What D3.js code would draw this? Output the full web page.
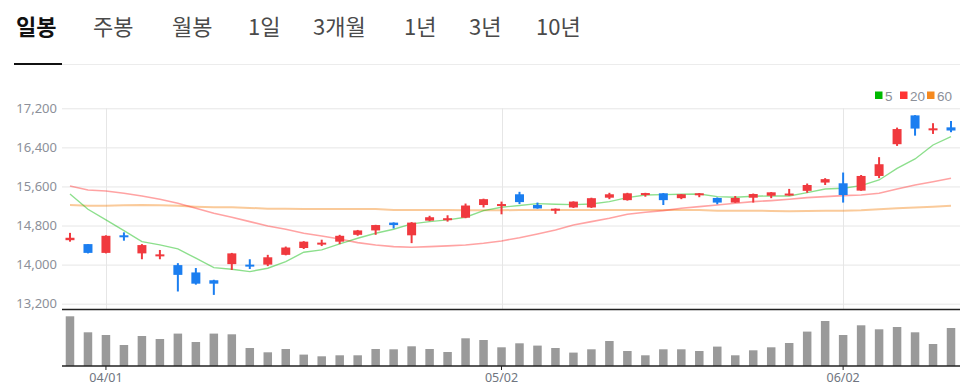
<!DOCTYPE html>
<html>
<head>
<meta charset="utf-8">
<script src="https://cdn.jsdelivr.net/npm/d3@7"></script>
<style>
  body { margin: 0; background: #fff; }
  svg { display: block; }
  .ytick text { font-family: "Noto Sans", "Open Sans", sans-serif; font-size: 13px; fill: #8c9099; }
  .xtick text { font-family: "Noto Sans", "Open Sans", sans-serif; font-size: 12.5px; fill: #6f7580; }
</style>
</head>
<body>
<svg id="viz" width="976" height="386"></svg>
<script>
// tabs
var tabs = ["일봉", "주봉", "월봉", "1일", "3개월", "1년", "3년", "10년"]
var tabX = [16, 93, 172, 248, 313, 404, 469, 536]

// daily candles (2025)
var dates = ["03/28","03/31","04/01","04/02","04/03","04/04","04/07","04/08","04/09","04/10",
  "04/11","04/14","04/15","04/16","04/17","04/18","04/21","04/22","04/23","04/24",
  "04/25","04/28","04/29","04/30","05/02","05/07","05/08","05/09","05/12","05/13",
  "05/14","05/15","05/16","05/19","05/20","05/21","05/22","05/23","05/26","05/27",
  "05/28","05/29","05/30","06/02","06/04","06/05","06/09","06/10","06/11","06/12"]
var opens = [14500,14420,14240,14600,14230,14190,13990,13840,13680,14010,14000,14000,14200,14340,14430,14470,14610,14700,14860,14600,14900,14930,14960,15220,15220,15440,15220,15130,15170,15170,15370,15320,15450,15460,15360,15440,15365,15270,15370,15410,15440,15510,15680,15665,15515,15815,16465,17055,16775,16810]
var closes = [14550,14240,14590,14570,14400,14210,13790,13610,13610,14230,13990,14150,14350,14470,14450,14590,14700,14810,14810,14860,14970,14950,15210,15340,15240,15280,15150,15145,15290,15360,15440,15460,15465,15320,15440,15460,15270,15365,15445,15480,15455,15630,15750,15425,15815,16055,16775,16785,16790,16745]
var highs = [14650,14420,14600,14660,14420,14300,14030,13930,13690,14240,14110,14200,14370,14480,14510,14610,14710,14815,14865,14870,15000,15010,15250,15350,15290,15490,15270,15150,15295,15370,15470,15470,15470,15465,15445,15465,15375,15405,15455,15485,15550,15660,15770,15885,15835,16200,16805,17060,16895,16940]
var lows = [14470,14230,14230,14490,14110,14110,13450,13590,13380,13890,13910,13970,14190,14320,14380,14420,14590,14610,14740,14440,14890,14880,14950,15170,15030,15240,15145,15040,15160,15160,15340,15310,15390,15220,15340,15380,15235,15265,15270,15360,15410,15470,15630,15270,15510,15770,16430,16640,16675,16710]
var volumes = [497,337,310,210,300,270,324,240,324,317,180,137,170,114,97,107,107,170,167,197,170,140,277,260,187,227,204,180,134,167,250,150,107,167,167,150,194,107,157,187,230,344,450,310,407,367,390,337,220,380]

// moving averages
var ma5 = [15447,15133,14915,14696,14470,14403,14321,14131,13939,13906,13857,13926,14061,14254,14301,14424,14540,14642,14724,14833,14880,14915,14970,15105,15174,15211,15248,15236,15228,15242,15289,15371,15426,15433,15440,15447,15392,15379,15399,15406,15406,15473,15549,15563,15616,15733,15972,16163,16449,16619]
var ma20 = [15610,15528,15508,15460,15406,15338,15256,15154,15051,14970,14880,14792,14724,14642,14587,14526,14451,14403,14369,14356,14369,14383,14403,14438,14485,14550,14628,14710,14812,14880,14949,15031,15072,15105,15154,15187,15221,15256,15289,15310,15338,15371,15392,15412,15426,15460,15549,15631,15698,15768]
var ma60 = [15221,15207,15207,15215,15221,15215,15207,15187,15174,15174,15160,15146,15146,15140,15140,15140,15140,15140,15119,15119,15119,15119,15113,15113,15113,15119,15119,15119,15119,15119,15119,15119,15119,15119,15119,15119,15105,15105,15105,15099,15092,15099,15105,15105,15113,15133,15154,15167,15187,15207]

var priceTicks = [13200, 14000, 14800, 15600, 16400, 17200]
var dateTicks = ["04/01", "05/02", "06/02"]
var legendNames = ["5", "20", "60"]
var legendColors = ["#00b900", "#ff3333", "#f5891f"]

var UP = "#f0393e", DOWN = "#1b7ef0"

var svg = d3.select("#viz")

// tab header
svg.selectAll(".tab").data(tabs).enter()
  .append("text")
  .attr("class", "tab")
  .attr("x", (d, i) => tabX[i])
  .attr("y", 35)
  .style("font-family", "'Noto Sans CJK KR', 'Noto Sans', sans-serif")
  .style("font-size", "22px")
  .style("font-weight", (d, i) => i == 0 ? "700" : "400")
  .style("fill", (d, i) => i == 0 ? "#111" : "#4a4a4a")
  .text(d => d)

svg.append("line").attr("x1", 14).attr("x2", 960).attr("y1", 64.5).attr("y2", 64.5)
  .style("stroke", "#ececec")
svg.append("line").attr("x1", 14).attr("x2", 62).attr("y1", 64).attr("y2", 64)
  .style("stroke", "#111").style("stroke-width", 2)

// scales
var left = 62, right = 960
var x = d3.scaleBand().domain(dates).range([61, 960]).paddingInner(0.5).paddingOuter(0.25)
var cx = d => x(d) + x.bandwidth() / 2
var y = d3.scaleLinear().domain([13200, 17200]).range([303.7, 108.3])
var yv = d3.scaleLinear().domain([0, 550]).range([366, 311])

// price grid + labels
var yAxis = d3.axisLeft(y).tickValues(priceTicks).tickFormat(d3.format(","))
  .tickSize(-(right - left)).tickPadding(5)
var gy = svg.append("g").attr("class", "ytick").attr("transform", `translate(${left},0)`).call(yAxis)
gy.select(".domain").remove()
gy.selectAll("line").style("stroke", "#e6e6e6")

// vertical grid at date ticks
svg.selectAll(".vgrid").data(dateTicks).enter()
  .append("line")
  .attr("x1", d => Math.round(cx(d)) + 0.5).attr("x2", d => Math.round(cx(d)) + 0.5)
  .attr("y1", 108.3).attr("y2", 309)
  .style("stroke", "#e6e6e6")

// separators
svg.append("line").attr("x1", left).attr("x2", right).attr("y1", 309.5).attr("y2", 309.5)
  .style("stroke", "#222").style("stroke-width", 1.5)

// volume bars
svg.selectAll(".vol").data(volumes).enter()
  .append("rect")
  .attr("x", (d, i) => cx(dates[i]) - 4.25)
  .attr("width", 8.5)
  .attr("y", d => yv(d))
  .attr("height", d => yv(0) - yv(d))
  .style("fill", "#9a9a9a")

// x axis
var xAxis = d3.axisBottom(x).tickValues(dateTicks).tickSize(4).tickPadding(3)
var gx = svg.append("g").attr("class", "xtick").attr("transform", "translate(0,366)").call(xAxis)
gx.select(".domain").remove()
gx.selectAll("line").style("stroke", "#222")
svg.append("line").attr("x1", left).attr("x2", right).attr("y1", 366).attr("y2", 366)
  .style("stroke", "#222").style("stroke-width", 1.5)

// moving average lines
var maSets = [ma60, ma20, ma5]
var maColors = ["#f5891f", "#ff3333", "#00b900"]
var maWidths = [2, 1.6, 1.4]
maSets.forEach((m, k) => {
  svg.append("path")
    .datum(m)
    .attr("d", d3.line().x((d, i) => cx(dates[i])).y(d => y(d)))
    .style("fill", "none")
    .style("stroke", maColors[k])
    .style("stroke-opacity", 0.45)
    .style("stroke-width", maWidths[k])
})

// candles
dates.forEach((d, i) => {
  var col = closes[i] >= opens[i] ? UP : DOWN
  svg.append("line")
    .attr("x1", cx(d)).attr("x2", cx(d))
    .attr("y1", y(highs[i])).attr("y2", y(lows[i]))
    .style("stroke", col).style("stroke-width", 2)
  var top = y(Math.max(opens[i], closes[i]))
  var h = Math.max(2, y(Math.min(opens[i], closes[i])) - top)
  svg.append("rect")
    .attr("x", x(d)).attr("width", x.bandwidth())
    .attr("y", top).attr("height", h)
    .style("fill", col)
})

// legend
var lg = svg.append("g").attr("transform", "translate(875,91.5)")
var lx = [0, 25, 52]
legendNames.forEach((n, i) => {
  lg.append("rect").attr("x", lx[i]).attr("y", 0).attr("width", 7.5).attr("height", 7.5)
    .style("fill", legendColors[i])
  lg.append("text").attr("x", lx[i] + 10).attr("y", 9)
    .style("font-family", "'Liberation Sans', Arial, sans-serif").style("font-size", "13.5px")
    .style("fill", "#8c9099")
    .text(n)
})
</script>
</body>
</html>
